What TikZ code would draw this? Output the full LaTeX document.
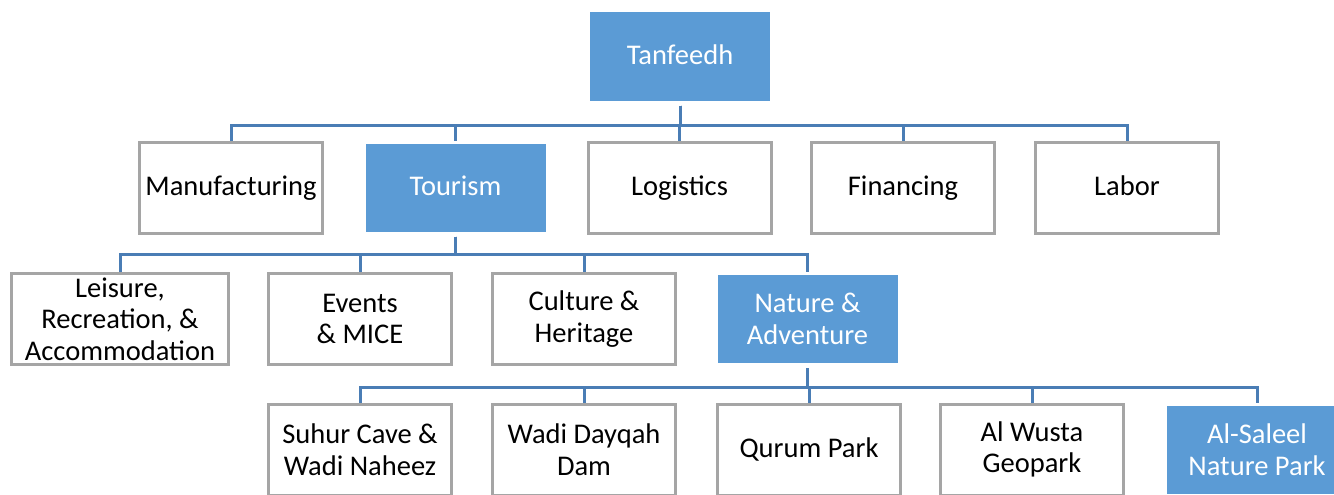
\documentclass[tikz,border=0pt]{standalone}
\usepackage{fontspec}
\setmainfont{Carlito}
\definecolor{boxblue}{HTML}{5B9BD5}
\definecolor{linkblue}{HTML}{4A7DB5}
\definecolor{boxgray}{HTML}{A5A5A5}
\begin{document}
\begin{tikzpicture}[x=1pt,y=-1pt,
  base/.style={rectangle, minimum width=183pt, minimum height=91pt, inner sep=0pt,
    align=center, font=\fontsize{28.5}{31.5}\selectfont, line width=3pt},
  graybox/.style={base, draw=boxgray, fill=white, text=black},
  bluebox/.style={base, draw=white, fill=boxblue, text=white},
  oneline/.style={text height=21pt, text depth=5pt},
  conn/.style={draw=linkblue, line width=3pt}]
\useasboundingbox (0,0) rectangle (1334,495);
\begin{scope}
\clip (0,0) rectangle (1334,495);
% nodes
\node[bluebox, oneline] (tan) at (680,56.5) {Tanfeedh};
\node[graybox, oneline] (man) at (231,187.5) {Manufacturing};
\node[bluebox, oneline] (tou) at (455.5,187.5) {Tourism};
\node[graybox, oneline] (log) at (679.5,187.5) {Logistics};
\node[graybox, oneline] (fin) at (903,187.5) {Financing};
\node[graybox, oneline] (lab) at (1127,187.5) {Labor};
\node[graybox, minimum width=217pt] (lei) at (120,319) {Leisure,\\Recreation, \&\\Accommodation};
\node[graybox] (eve) at (360,319) {Events\\\& MICE};
\node[graybox] (cul) at (584,319) {Culture \&\\Heritage};
\node[bluebox] (nat) at (807.5,319) {Nature \&\\Adventure};
\node[graybox] (suh) at (360,449.5) {Suhur Cave \&\\Wadi Naheez};
\node[graybox] (wad) at (584,449.5) {Wadi Dayqah\\Dam};
\node[graybox, oneline] (qur) at (809,449.5) {Qurum Park};
\node[graybox] (alw) at (1032,449.5) {Al Wusta\\Geopark};
\node[bluebox] (als) at (1257,449.5) {Al-Saleel\\Nature Park};
% connectors
\foreach \c in {man,tou,log,fin,lab}
  \draw[conn] ([yshift=-2pt]tan.south) -- ([yshift=-2pt]tan.south |- 0,123) -| (\c.north);
\foreach \c in {lei,eve,cul,nat}
  \draw[conn] ([yshift=-2pt]tou.south) -- ([yshift=-2pt]tou.south |- 0,252) -| (\c.north);
\foreach \c in {suh,wad,qur,alw,als}
  \draw[conn] ([yshift=-2pt]nat.south) -- ([yshift=-2pt]nat.south |- 0,385) -| (\c.north);
\end{scope}
\end{tikzpicture}
\end{document}
